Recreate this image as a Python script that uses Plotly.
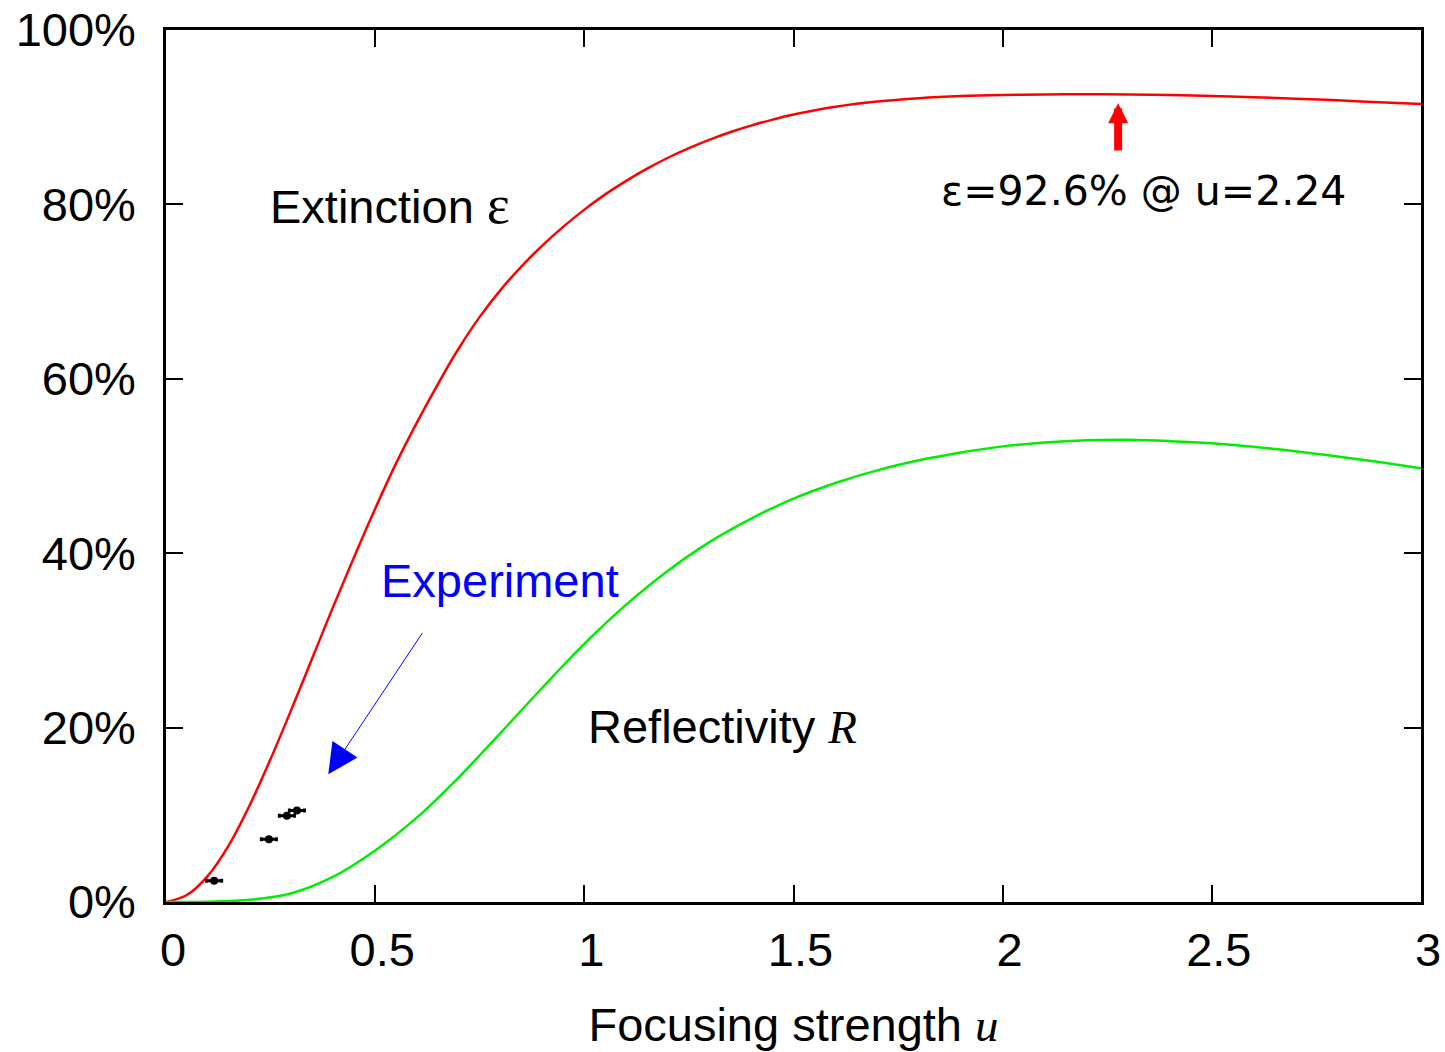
import plotly.graph_objects as go

# ---- data ----
u_ext = [0, 0.05, 0.1, 0.15, 0.2, 0.25, 0.3, 0.35, 0.4, 0.45, 0.5, 0.55, 0.6, 0.65, 0.7, 0.75,
         0.8, 0.85, 0.9, 0.95, 1.0, 1.05, 1.1, 1.15, 1.2, 1.25, 1.3, 1.35, 1.4, 1.45, 1.5,
         1.6, 1.7, 1.8, 1.9, 2.0, 2.1, 2.2, 2.3, 2.4, 2.5, 2.6, 2.7, 2.8, 2.9, 3.0]
extinction = [0, 0.8, 3.0, 6.5, 11.1, 16.4, 22.1, 28.0, 33.9, 39.6, 45.1, 50.3, 55.0, 59.4, 63.5, 67.1,
              70.2, 72.9, 75.3, 77.45, 79.4, 81.15, 82.7, 84.1, 85.35, 86.45, 87.43, 88.3, 89.06, 89.72, 90.3,
              91.2, 91.8, 92.18, 92.42, 92.55, 92.61, 92.63, 92.61, 92.54, 92.43, 92.29, 92.12, 91.93, 91.72, 91.5]

u_refl = [0, 0.1, 0.2, 0.3, 0.4, 0.5, 0.6, 0.7, 0.8, 0.9, 1.0, 1.1, 1.2, 1.3, 1.4, 1.5,
          1.6, 1.7, 1.8, 1.9, 2.0, 2.1, 2.2, 2.3, 2.4, 2.5, 2.6, 2.7, 2.8, 2.9, 3.0]
reflectivity = [0, 0.03, 0.25, 1.0, 2.9, 5.9, 9.7, 14.3, 19.4, 24.6, 29.6, 34.1, 38.0, 41.3, 44.0, 46.25,
                48.05, 49.5, 50.65, 51.55, 52.25, 52.7, 52.95, 53.0, 52.85, 52.6, 52.2, 51.7, 51.1, 50.45, 49.75]

u_exp = [0.115, 0.246, 0.289, 0.313]
exp_values = [2.45, 7.2, 9.9, 10.5]
u_exp_err = [0.018, 0.018, 0.018, 0.018]

x_ticks = [0, 0.5, 1, 1.5, 2, 2.5, 3]
x_tick_labels = ["0", "0.5", "1", "1.5", "2", "2.5", "3"]
y_ticks = [0, 20, 40, 60, 80, 100]
y_tick_labels = ["0%", "20%", "40%", "60%", "80%", "100%"]

SANS = "Liberation Sans, Arial, Helvetica, sans-serif"

fig = go.Figure()
fig.add_trace(go.Scatter(x=u_ext, y=extinction, mode="lines",
                         line=dict(color="#ff0000", width=2.5, shape="spline", smoothing=1.0),
                         hoverinfo="skip"))
fig.add_trace(go.Scatter(x=u_refl, y=reflectivity, mode="lines",
                         line=dict(color="#00ee00", width=2.5, shape="spline", smoothing=1.0),
                         hoverinfo="skip"))
fig.add_trace(go.Scatter(x=u_exp, y=exp_values, mode="markers",
                         marker=dict(color="black", size=8),
                         error_x=dict(type="data", array=u_exp_err, color="black", thickness=3, width=2)))

axis_common = dict(showline=True, linecolor="black", linewidth=2.5, mirror="allticks",
                   ticks="inside", ticklen=17, tickwidth=2, tickcolor="black",
                   showgrid=False, zeroline=False, automargin=False,
                   tickfont=dict(family=SANS, size=47, color="black"))

fig.update_xaxes(range=[0, 3], tickvals=x_ticks, ticktext=x_tick_labels,
                 ticklabelstandoff=5, ticklabelshift=7,
                 title=dict(text="Focusing strength <i><span style='font-family:Liberation Serif'>u</span></i>",
                            font=dict(family=SANS, size=47, color="black"), standoff=33),
                 **axis_common)
fig.update_yaxes(range=[0, 100], tickvals=y_ticks, ticktext=y_tick_labels, ticklabelstandoff=18,
                 **axis_common)

txt = dict(family=SANS, size=47, color="black")
annotations = [
    dict(x=0.244, y=80.0, xref="x", yref="y", xanchor="left", yanchor="middle", showarrow=False,
         text="Extinction <span style='font-family:Liberation Serif;font-size:55px'>ε</span>", font=txt),
    dict(x=0.509, y=36.9, xref="x", yref="y", xanchor="left", yanchor="middle", showarrow=False,
         text="Experiment", font=dict(family=SANS, size=47, color="#0000ff")),
    dict(x=1.004, y=20.1, xref="x", yref="y", xanchor="left", yanchor="middle", showarrow=False,
         text="Reflectivity <i><span style='font-family:Liberation Serif'>R</span></i>", font=txt),
    dict(x=1.848, y=81.5, xref="x", yref="y", xanchor="left", yanchor="middle", showarrow=False,
         text="ε=92.6% @ u=2.24", font=dict(family="DejaVu Sans", size=41, color="black")),
    # blue arrow pointing at the experimental points
    dict(x=0.388, y=14.65, ax=0.615, ay=31.0, xref="x", yref="y", axref="x", ayref="y",
         showarrow=True, arrowhead=2, arrowsize=6, arrowwidth=1, arrowcolor="#0000ff", text=""),
    # red arrow marking the maximum
    dict(x=2.276, y=91.6, ax=2.276, ay=86.0, xref="x", yref="y", axref="x", ayref="y",
         showarrow=True, arrowhead=2, arrowsize=0.5, arrowwidth=8, arrowcolor="#ff0000", text=""),
]

fig.update_layout(width=1445, height=1052, margin=dict(l=166, r=24, t=30, b=150, pad=0),
                  paper_bgcolor="white", plot_bgcolor="white", showlegend=False,
                  annotations=annotations)

fig.write_html("out.html", config={"displayModeBar": False},
               post_script="document.body.style.margin='0px';")
